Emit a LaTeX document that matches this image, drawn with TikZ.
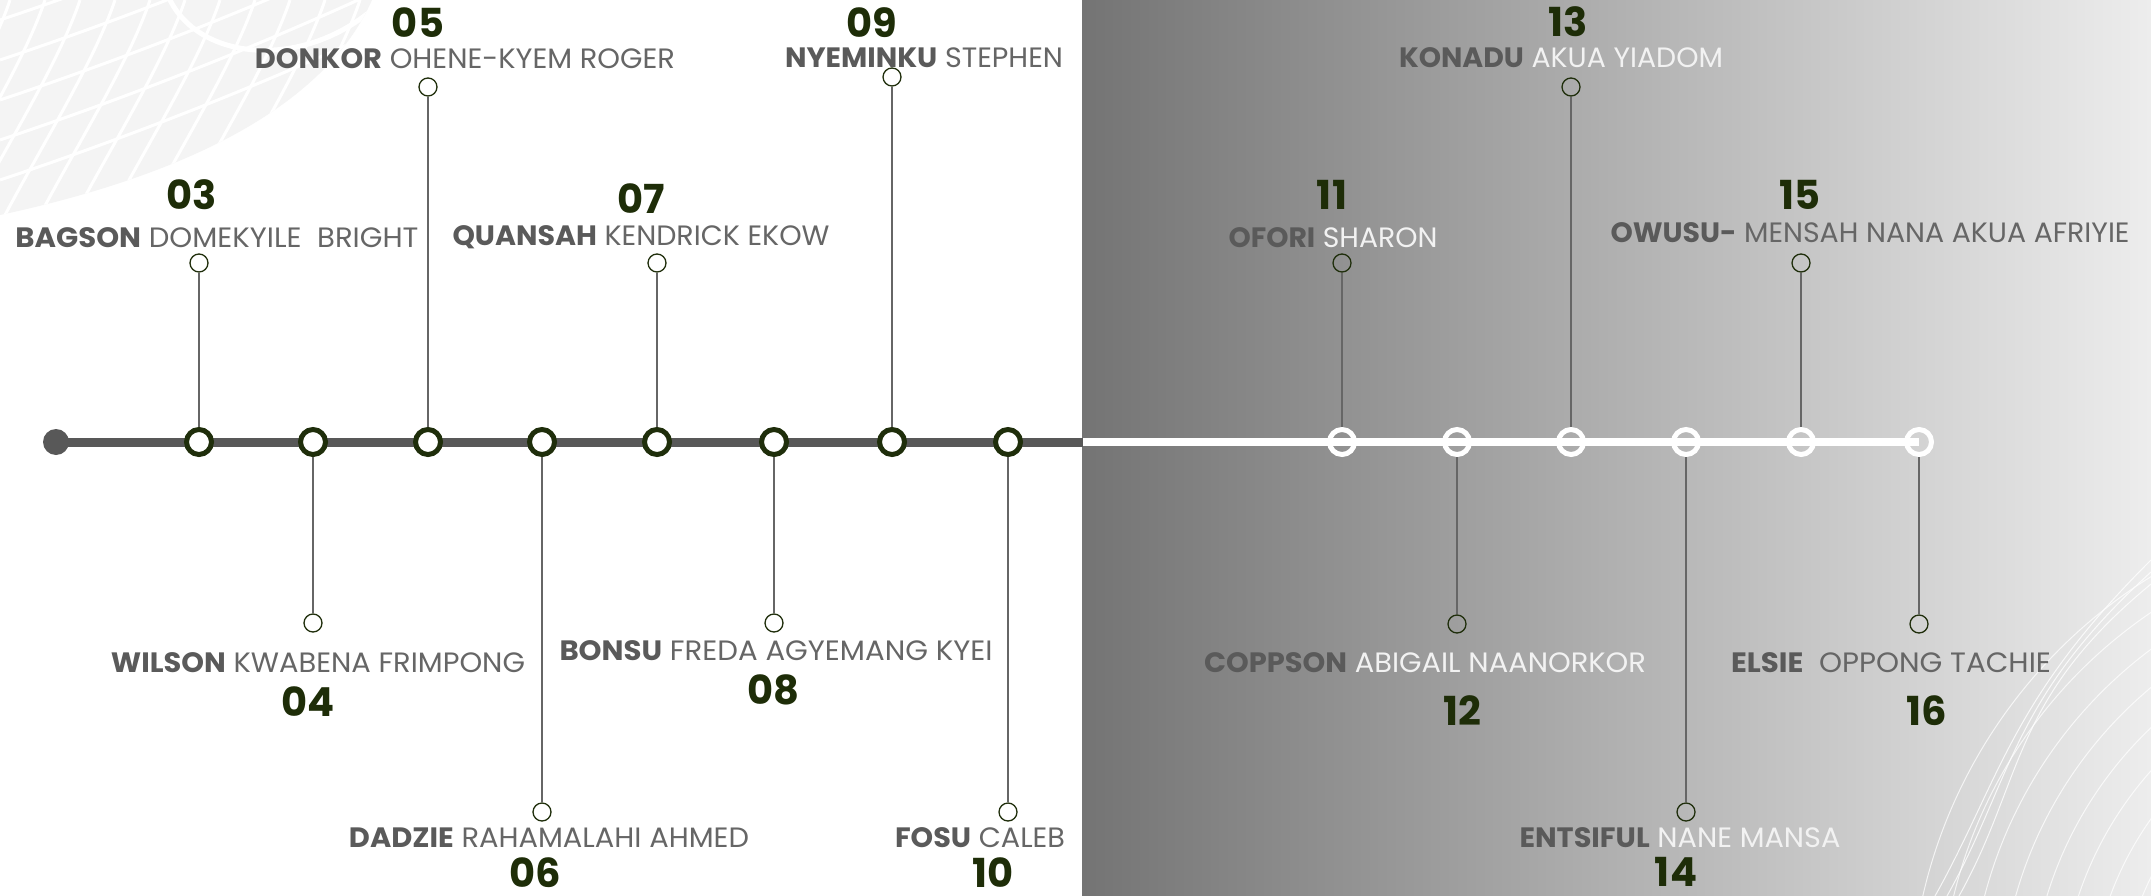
\documentclass[tikz,border=0pt]{standalone}
\usepackage{fontspec}
\setmainfont{Poppins}
\usepackage{graphicx}
\definecolor{tl}{HTML}{585858}
\definecolor{ring}{HTML}{1F2E0B}
\definecolor{num}{HTML}{1E2D08}
\definecolor{sur}{HTML}{5A5A5A}
\definecolor{giv}{HTML}{666666}
\definecolor{givw}{HTML}{F2F2F2}
\definecolor{conn}{HTML}{666666}
\definecolor{mapg}{HTML}{F4F4F4}
\definecolor{pL}{HTML}{747474}
\definecolor{pM}{HTML}{BDBDBD}
\definecolor{pR}{HTML}{EDEDED}
\newcommand\nmx[4]{\resizebox{#1pt}{\height}{{\bfseries\color{sur}#2}\ {\color{#4}#3}}}
\tikzset{
  lnode/.style={circle, draw=ring, line width=5pt, fill=white, minimum size=25pt, inner sep=0},
  rnode/.style={circle, draw=white, line width=5pt, minimum size=25pt, inner sep=0},
  endpt/.style={circle, draw=ring, line width=1.3pt, minimum size=18pt, inner sep=0},
  conn/.style={draw=conn, line width=2pt},
  namelbl/.style={inner sep=0, font=\fontsize{28}{30}\selectfont},
  numlbl/.style={inner sep=0, text=num, font=\bfseries\fontsize{40}{40}\selectfont},
}
\begin{document}
\begin{tikzpicture}[x=1pt,y=-1pt]
\useasboundingbox (0,0) rectangle (2151,896);
\fill[white] (0,0) rectangle (2151,896);
% gradient panel
\shade[left color=pL, middle color=pM, right color=pR] (1082,0) rectangle (2151,896);
% top-left map decoration
\begin{scope}
\clip (0,0) -- (372,0) .. controls (330,95) and (210,170) .. (0,215) -- cycle;
\fill[mapg] (0,0) rectangle (372,215);
\foreach \a in {-60,-25,10,45,80,115,150,185,220,255,290,325,360}
  \draw[white, line width=3pt] (\a,0) .. controls (\a-20,60) and (\a-70,140) .. (\a-110,215);
\foreach \b in {20,60,100,140,180}
  \draw[white, line width=3pt] (0,\b) .. controls (120,\b-40) and (250,\b-90) .. (380,\b-150);
\draw[white, line width=5pt] (170,0) .. controls (200,60) and (300,70) .. (372,10);
\end{scope}
% bottom-right curves
\begin{scope}
\clip (1900,500) rectangle (2151,896);
\foreach \r in {300,330,360,390,420,450,480,510}
  \draw[white, opacity=.75, line width=1pt] (2420,1010) circle (\r);
\foreach \d in {0,12,24}
  \draw[white, opacity=.8, line width=1pt] (1935+\d,896) .. controls (2000+\d,780) and (2010,700) .. (2151,560+\d);
\end{scope}
% timeline positions
\coordinate (s0) at (56,442);
\coordinate (mid) at (1083,442);
\coordinate (p16) at (1919,442);
\draw[tl, line width=9pt] (s0) -- (mid);
\draw[white, line width=8pt] (mid) -- (p16);
\node[circle, fill=tl, minimum size=26pt, inner sep=0] (s) at (s0) {};
% timeline nodes
\node[lnode] (t3) at (199,442) {};
\node[lnode] (t4) at (313,442) {};
\node[lnode] (t5) at (428,442) {};
\node[lnode] (t6) at (542,442) {};
\node[lnode] (t7) at (657,442) {};
\node[lnode] (t8) at (774,442) {};
\node[lnode] (t9) at (892,442) {};
\node[lnode] (t10) at (1008,442) {};
\node[rnode] (t11) at (1342,442) {};
\node[rnode] (t12) at (1457,442) {};
\node[rnode] (t13) at (1571,442) {};
\node[rnode] (t14) at (1686,442) {};
\node[rnode] (t15) at (1801,442) {};
\node[rnode] (t16) at (p16) {};
% end points
\node[endpt] (e3) at (199,263) {};
\node[endpt] (e5) at (428,87) {};
\node[endpt] (e7) at (657,263) {};
\node[endpt] (e9) at (892,77) {};
\node[endpt] (e4) at (313,623) {};
\node[endpt] (e8) at (774,623) {};
\node[endpt] (e6) at (542,812) {};
\node[endpt] (e10) at (1008,812) {};
\node[endpt] (e11) at (1342,263) {};
\node[endpt] (e13) at (1571,87) {};
\node[endpt] (e15) at (1801,263) {};
\node[endpt] (e12) at (1457,624) {};
\node[endpt] (e16) at (1919,624) {};
\node[endpt] (e14) at (1686,812) {};
% connectors
\foreach \i in {3,...,16} \draw[conn] (t\i) -- (e\i);
% names
\node[namelbl] (n3) at (217,238) {\nmx{403}{BAGSON}{DOMEKYILE\ \ BRIGHT}{giv}};
\node[namelbl] (n5) at (465,59) {\nmx{420}{DONKOR}{OHENE-KYEM ROGER}{giv}};
\node[namelbl] (n7) at (641,237) {\nmx{377}{QUANSAH}{KENDRICK EKOW}{giv}};
\node[namelbl] (n9) at (924,58) {\nmx{278}{NYEMINKU}{STEPHEN}{giv}};
\node[namelbl] (n11) at (1333,238) {\nmx{209}{OFORI}{SHARON}{givw}};
\node[namelbl] (n13) at (1561,58) {\nmx{324}{KONADU}{AKUA YIADOM}{givw}};
\node[namelbl] (n15) at (1870,233) {\nmx{519}{OWUSU-}{MENSAH NANA AKUA AFRIYIE}{giv}};
\node[namelbl] (n4) at (318,663) {\nmx{414}{WILSON}{KWABENA FRIMPONG}{giv}};
\node[namelbl] (n8) at (776,651) {\nmx{433}{BONSU}{FREDA AGYEMANG KYEI}{giv}};
\node[namelbl] (n6) at (549,838) {\nmx{400}{DADZIE}{RAHAMALAHI AHMED}{giv}};
\node[namelbl] (n10) at (980,838) {\nmx{170}{FOSU}{CALEB}{giv}};
\node[namelbl] (n12) at (1425,663) {\nmx{442}{COPPSON}{ABIGAIL NAANORKOR}{givw}};
\node[namelbl] (n16) at (1891,663) {\nmx{320}{ELSIE}{\ OPPONG TACHIE}{giv}};
\node[namelbl] (n14) at (1680,838) {\nmx{321}{ENTSIFUL}{NANE MANSA}{givw}};
% numbers
\node[numlbl] (k3) at (192,195) {03};
\node[numlbl] (k5) at (418,23) {05};
\node[numlbl] (k7) at (641,199) {07};
\node[numlbl] (k9) at (872,23) {09};
\node[numlbl] (k11) at (1332,195) {11};
\node[numlbl] (k13) at (1568,22) {13};
\node[numlbl] (k15) at (1800,195) {15};
\node[numlbl] (k4) at (308,702) {04};
\node[numlbl] (k8) at (773,690) {08};
\node[numlbl] (k6) at (535,873) {06};
\node[numlbl] (k10) at (993,873) {10};
\node[numlbl] (k12) at (1462,711) {12};
\node[numlbl] (k16) at (1927,711) {16};
\node[numlbl] (k14) at (1676,872) {14};
\end{tikzpicture}
\end{document}
